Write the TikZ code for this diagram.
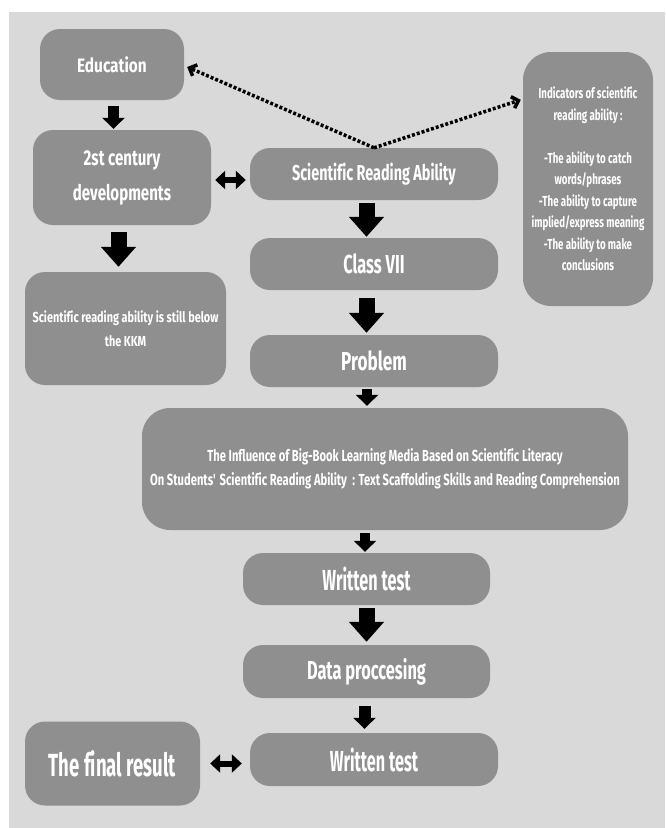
\documentclass[tikz,border=0pt]{standalone}
\usepackage{fontspec}
\setmainfont{Fira Sans}[Ligatures=NoCommon]
\usetikzlibrary{arrows.meta}
\definecolor{bg}{HTML}{D9D9D9}
\definecolor{boxgray}{HTML}{8F8F8F}
\begin{document}
\begin{tikzpicture}[x=1pt, y=-1pt,
		box/.style={fill=boxgray, text=white, align=center, inner sep=0pt, rounded corners=20pt},
		fs/.style n args={3}{font=\fontsize{#1}{#2}\selectfont\bfseries\addfontfeature{FakeStretch=#3}},
		bigdown/.style={line width=16pt, -{Triangle[width=34pt,length=20pt]}},
		smalldown/.style={line width=11pt, -{Triangle[width=22pt,length=11pt]}},
		twoway/.style={line width=6pt, {Triangle[width=18pt,length=10pt]}-{Triangle[width=18pt,length=10pt]}},
		dotarrow/.style={line width=3.5pt, dash pattern=on 3pt off 2pt, -{Straight Barb[length=6pt,width=12pt]}}
		]
	\fill[white] (0,0) rectangle (665,828);
	\fill[bg] (8.5,12) rectangle (665,828);
	% left column
	\node [box, fs={19.5}{24}{0.79}, minimum width=144pt, minimum height=71pt] (edu) at (112,64.5) {Education};
	\node [box, fs={21.5}{35}{0.70}, minimum width=178pt, minimum height=95pt] (cent) at (122,177.5) {2st century\\developments};
	\node [box, fs={14.5}{24}{0.75}, minimum width=201pt, minimum height=113pt] (below) at (125.5,328.5) {Scientific reading ability is still below\\the KKM};
	% middle column
	\node [box, fs={21.5}{26}{0.67}, minimum width=248pt, minimum height=52pt] (sra) at (374,174) {Scientific Reading Ability};
	\node [box, fs={26}{30}{0.63}, minimum width=248pt, minimum height=52pt] (cls) at (374,264) {Class VII};
	\node [box, fs={26}{30}{0.66}, minimum width=248pt, minimum height=52pt] (prob) at (374,361) {Problem};
	\node [box, fs={16}{24}{0.70}, rounded corners=28pt, minimum width=486pt, minimum height=122pt] (infl) at (385,469)
		{The Influence of Big-Book Learning Media Based on Scientific Literacy\\On Students\textquotesingle{} Scientific Reading Ability~~: Text Scaffolding Skills and Reading Comprehension};
	\node [box, fs={29}{32}{0.56}, minimum width=247pt, minimum height=52pt] (wt1) at (366.5,579) {Written test};
	\node [box, fs={26}{30}{0.63}, minimum width=247pt, minimum height=53pt] (data) at (366.5,671.5) {Data proccesing};
	\node [box, fs={29}{32}{0.56}, minimum width=248pt, minimum height=53pt] (wt2) at (374,759.5) {Written test};
	\node [box, fs={32}{36}{0.58}, minimum width=175pt, minimum height=84pt] (final) at (112.5,763.5) {The final result};
	% indicators
	\node [box, fs={14.5}{21.5}{0.67}, rounded corners=28pt, minimum width=130pt, minimum height=254pt] (ind) at (588,179)
		{Indicators of scientific\\reading ability :\\[21.5pt]-The ability to catch\\words/phrases\\-The ability to capture\\implied/express meaning\\-The ability to make\\conclusions};
	% arrows
	\draw [smalldown, shorten <=6pt, shorten >=1pt] ([xshift=1.5pt]edu.south) -- ([xshift=1.5pt]edu.south |- cent.north);
	\draw [bigdown, shorten <=7pt, shorten >=5pt] ([xshift=-3.5pt]cent.south) -- ([xshift=-3.5pt]cent.south |- below.north);
	\draw [bigdown, shorten <=3pt, shorten >=1pt] ([xshift=-7.5pt]sra.south) -- ([xshift=-7.5pt]cls.north);
	\draw [bigdown, shorten <=8pt, shorten >=2pt] ([xshift=-7.5pt]cls.south) -- ([xshift=-7.5pt]prob.north);
	\draw [smalldown, line width=10pt, shorten <=2pt, shorten >=2pt] ([xshift=-7pt]prob.south) -- ([xshift=-7pt]prob.south |- infl.north);
	\draw [smalldown, line width=10pt, shorten <=3pt, shorten >=1pt] ([xshift=-1.5pt]wt1.north |- infl.south) -- ([xshift=-1.5pt]wt1.north);
	\draw [bigdown, shorten <=3pt, shorten >=3pt] (wt1.south) -- (data.north);
	\draw [smalldown, line width=12pt, shorten <=8pt, shorten >=4pt] ([xshift=-2pt]data.south) -- ([xshift=-2pt]data.south |- wt2.north);
	\draw [twoway, shorten <=4pt, shorten >=4pt] ([yshift=-2.5pt]cent.east) -- ([yshift=-2.5pt]cent.east -| sra.west);
	\draw [twoway, shorten <=10pt, shorten >=8pt] (final.east) -- (final.east -| wt2.west);
	\draw [dotarrow] (sra.north) -- ([xshift=3pt,yshift=-2.5pt]edu.east);
	\draw [dotarrow] (sra.north) -- ([xshift=-2pt,yshift=-48pt]ind.north west);
\end{tikzpicture}
\end{document}
